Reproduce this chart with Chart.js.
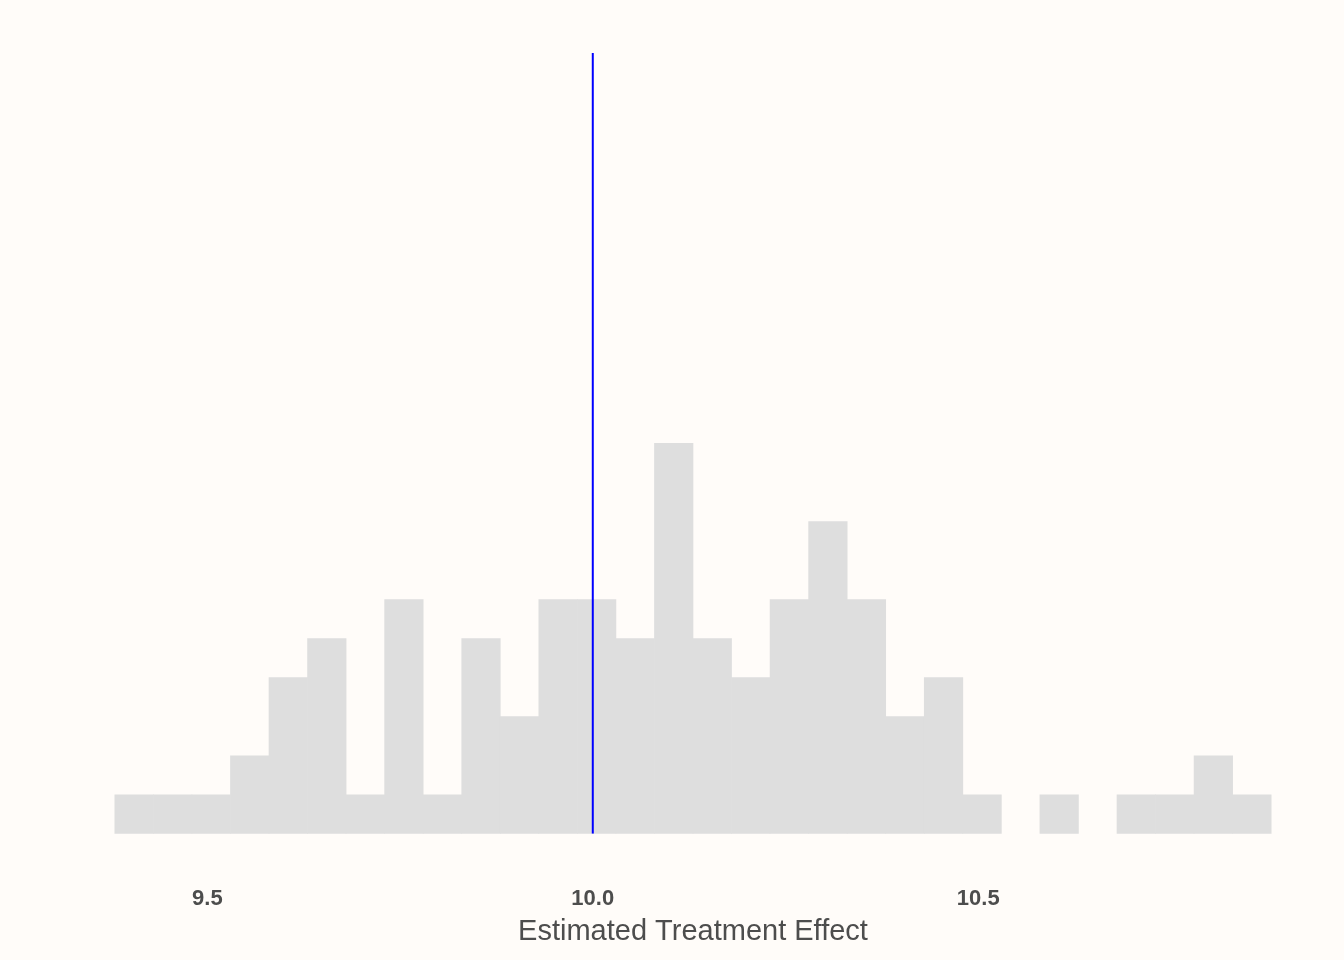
<!DOCTYPE html>
<html>
<head>
<meta charset="utf-8">
<script src="https://cdn.jsdelivr.net/npm/chart.js@4"></script>
<style>
  html, body { margin: 0; padding: 0; background: #FFFCF9; }
  #wrap { width: 1344px; height: 960px; }
</style>
</head>
<body>
<div id="wrap"><canvas id="hist"></canvas></div>
<script>
/* ── data ─────────────────────────────────────── */

// bin centres (bin width 0.05)
const binCenters = [
  9.405, 9.455, 9.505, 9.555, 9.605, 9.655, 9.705, 9.755, 9.805, 9.855,
  9.905, 9.955, 10.005, 10.055, 10.105, 10.155, 10.205, 10.255, 10.305, 10.355,
  10.405, 10.455, 10.505, 10.555, 10.605, 10.655, 10.705, 10.755, 10.805, 10.855
];
const counts = [
  1, 1, 1, 2, 4, 5, 1, 6, 1, 5,
  3, 6, 6, 5, 10, 5, 4, 6, 8, 6,
  3, 4, 1, 0, 1, 0, 1, 1, 2, 1
];
const trueEffect = 10.0;
const refLineY = [0, 20];
const xTicks = [9.5, 10.0, 10.5];

/* ── chart ────────────────────────────────────── */

const bgPlugin = {
  id: 'bg',
  beforeDraw(chart) {
    const c = chart.ctx;
    c.save();
    c.fillStyle = '#FFFCF9';
    c.fillRect(0, 0, chart.width, chart.height);
    c.restore();
  }
};

new Chart(document.getElementById('hist'), {
  data: {
    datasets: [
      {
        type: 'line',
        data: refLineY.map(y => ({ x: trueEffect, y })),
        borderColor: '#0000FF',
        borderWidth: 2,
        pointRadius: 0,
        order: 0
      },
      {
        type: 'bar',
        data: binCenters.map((x, i) => ({ x, y: counts[i] })),
        backgroundColor: c => (c.raw && c.raw.y > 0) ? '#DEDEDE' : 'rgba(0,0,0,0)',
        borderWidth: 0,
        barPercentage: 1,
        categoryPercentage: 1,
        order: 1
      }
    ]
  },
  options: {
    responsive: true,
    maintainAspectRatio: false,
    animation: false,
    layout: { padding: { top: 53, left: 57, right: 15, bottom: 11 } },
    plugins: { legend: { display: false }, tooltip: { enabled: false } },
    scales: {
      x: {
        type: 'linear',
        offset: false,
        min: 9.305,
        max: 10.955,
        grid: { display: true, drawOnChartArea: false, drawTicks: true, tickLength: 52, color: 'rgba(0,0,0,0)' },
        border: { display: false },
        afterBuildTicks: s => { s.ticks = xTicks.map(v => ({ value: v })); },
        ticks: {
          padding: 0,
          maxRotation: 0,
          color: '#4D4D4D',
          font: { family: 'Liberation Sans, Arial, sans-serif', size: 22, weight: 'bold' },
          callback: v => Number(v).toFixed(1)
        },
        title: {
          display: true,
          text: 'Estimated Treatment Effect',
          color: '#4D4D4D',
          padding: { top: 2, bottom: 0 },
          font: { family: 'Liberation Sans, Arial, sans-serif', size: 29 }
        }
      },
      y: {
        display: false,
        min: 0,
        max: 20
      }
    }
  },
  plugins: [bgPlugin]
});
</script>
</body>
</html>
